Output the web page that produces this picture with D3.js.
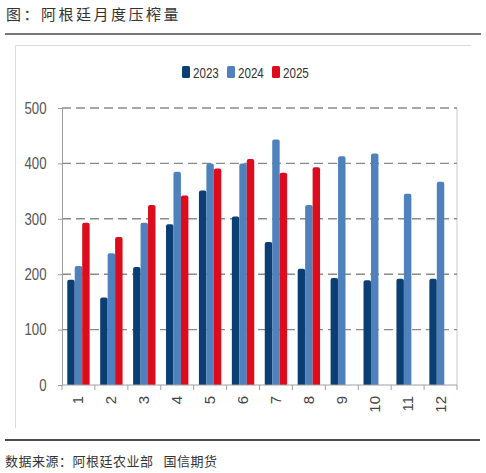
<!DOCTYPE html>
<html>
<head>
<meta charset="utf-8">
<script src="https://cdn.jsdelivr.net/npm/d3@7"></script>
<style>
  body { margin: 0; background: #fff; }
  svg { display: block; }
</style>
</head>
<body>
<div id="chart"></div>
<script>
// data (10k tonnes)
var months = ["1", "2", "3", "4", "5", "6", "7", "8", "9", "10", "11", "12"];
var seriesNames = ["2023", "2024", "2025"];
var v2023 = [190, 158, 213, 290, 351, 304, 258, 210, 193, 189, 192, 192];
var v2024 = [215, 238, 293, 385, 400, 400, 443, 325, 413, 418, 345, 367];
var v2025 = [293, 267, 325, 342, 391, 408, 383, 393, null, null, null, null];
var yTicks = [0, 100, 200, 300, 400, 500];
var colors = ["#0b3f74", "#4f81bd", "#dc0c1c"];

var W = 486, H = 473;
var margin = {top: 108, right: 29, bottom: 88, left: 62};
var width = W - margin.left - margin.right,
    height = H - margin.top - margin.bottom;
var narrow = 0.8; // squeeze for the condensed digits

var svg = d3.select("#chart").append("svg")
    .attr("width", W)
    .attr("height", H);

// title + rule
svg.append("text")
    .attr("x", 6).attr("y", 20)
    .style("font-family", "'Noto Sans CJK SC', sans-serif")
    .style("font-size", "15px")
    .style("letter-spacing", "2.5px")
    .style("fill", "#333")
    .text("图：阿根廷月度压榨量");

svg.append("line")
    .attr("x1", 5).attr("x2", 481).attr("y1", 34).attr("y2", 34)
    .style("stroke", "#777").style("stroke-width", 2);

// light panel border (top + left)
svg.append("path")
    .attr("d", "M15.5,428 L15.5,45.5 L471,45.5")
    .style("fill", "none").style("stroke", "#dcdcdc").style("stroke-width", 1);

// bottom rule + source
svg.append("line")
    .attr("x1", 5).attr("x2", 480).attr("y1", 440).attr("y2", 440)
    .style("stroke", "#111").style("stroke-width", 1.5);

var src = svg.append("text")
    .attr("x", 5).attr("y", 466)
    .style("font-family", "'Noto Sans CJK SC', sans-serif")
    .style("font-size", "13px")
    .style("letter-spacing", "0.5px")
    .style("fill", "#333");
src.append("tspan").text("数据来源：阿根廷农业部");
src.append("tspan").attr("dx", 10).text("国信期货");

// legend
var legend = svg.append("g").attr("transform", "translate(182,66)");
seriesNames.forEach(function(s, i) {
    var g = legend.append("g").attr("transform", "translate(" + (i * 45) + ",0)");
    g.append("rect")
        .attr("width", 8).attr("height", 12).attr("rx", 1.5)
        .style("fill", colors[i]);
    g.append("text")
        .attr("transform", "translate(11,11.5) scale(" + narrow + ",1)")
        .style("font-family", "'Liberation Sans', Arial, sans-serif")
        .style("font-size", "14.5px")
        .style("fill", "#333")
        .text(s);
});

var chart = svg.append("g")
    .attr("transform", "translate(" + margin.left + "," + margin.top + ")");

var x = d3.scaleBand()
    .domain(months)
    .range([0, width])
    .paddingInner(0.32)
    .paddingOuter(0.16);

var xs = d3.scaleBand()
    .domain(seriesNames)
    .range([0, x.bandwidth()]);

var y = d3.scaleLinear()
    .domain([0, 500])
    .range([height, 0]);

// right border of plot area
chart.append("line")
    .attr("x1", width).attr("x2", width).attr("y1", 0).attr("y2", height)
    .style("stroke", "#c8c8c8").style("stroke-width", 1);

// dashed gridlines
chart.append("g").selectAll("line")
    .data(yTicks.filter(function(d) { return d > 0; }))
    .enter().append("line")
    .attr("x1", 0).attr("x2", width)
    .attr("y1", function(d) { return y(d); })
    .attr("y2", function(d) { return y(d); })
    .style("stroke", "#8a8a8a")
    .style("stroke-width", 1.4)
    .style("stroke-dasharray", "9,5");

// y axis
var yAxis = chart.append("g")
    .call(d3.axisLeft(y).tickValues(yTicks).tickSize(4));
yAxis.select(".domain").style("stroke", "#9a9a9a");
yAxis.selectAll(".tick line").style("stroke", "#9a9a9a");
yAxis.selectAll("text")
    .attr("x", -15.5 / narrow)
    .attr("transform", "scale(" + narrow + ",1)")
    .style("font-family", "'Liberation Sans', Arial, sans-serif")
    .style("font-size", "16.5px")
    .style("fill", "#555");

// bars with rounded tops
var table = months.map(function(m, i) {
    return {month: m, vals: [v2023[i], v2024[i], v2025[i]]};
});

function barPath(x0, w, y0, y1) {
    var r = Math.min(2, w / 2);
    return "M" + x0 + "," + y1 +
        "L" + x0 + "," + (y0 + r) +
        "Q" + x0 + "," + y0 + " " + (x0 + r) + "," + y0 +
        "L" + (x0 + w - r) + "," + y0 +
        "Q" + (x0 + w) + "," + y0 + " " + (x0 + w) + "," + (y0 + r) +
        "L" + (x0 + w) + "," + y1 + "Z";
}

var groups = chart.append("g").selectAll(".grp")
    .data(table)
    .enter().append("g")
    .attr("class", "grp")
    .attr("transform", function(d) { return "translate(" + x(d.month) + ",0)"; });

groups.selectAll("path")
    .data(function(d) {
        return d.vals.map(function(v, i) { return {s: seriesNames[i], v: v, i: i}; })
            .filter(function(e) { return e.v != null; });
    })
    .enter().append("path")
    .attr("d", function(e) { return barPath(xs(e.s), xs.bandwidth(), y(e.v), y(0)); })
    .style("fill", function(e) { return colors[e.i]; });

// x axis: line, ticks between categories, rotated labels
chart.append("line")
    .attr("x1", 0).attr("x2", width).attr("y1", height).attr("y2", height)
    .style("stroke", "#a0a0a0").style("stroke-width", 1);

var bounds = months.map(function(m) { return x(m) - x.step() * x.paddingInner() / 2; });
bounds.push(width);
chart.append("g").selectAll("line")
    .data(bounds)
    .enter().append("line")
    .attr("x1", function(d) { return d; }).attr("x2", function(d) { return d; })
    .attr("y1", height).attr("y2", height + 5)
    .style("stroke", "#a0a0a0");

chart.append("g").selectAll("text")
    .data(months)
    .enter().append("text")
    .attr("transform", function(d) {
        return "translate(" + (x(d) + x.bandwidth() / 2 + 5) + "," + (height + 11) + ") rotate(-90)";
    })
    .attr("text-anchor", "end")
    .style("font-family", "'Liberation Sans', Arial, sans-serif")
    .style("font-size", "15px")
    .style("fill", "#444")
    .text(function(d) { return d; });
</script>
</body>
</html>
